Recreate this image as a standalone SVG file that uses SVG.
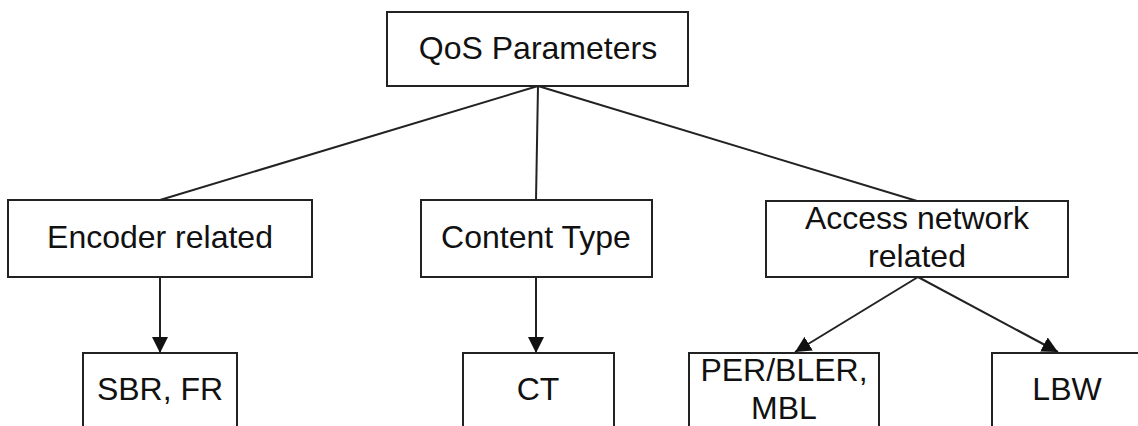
<svg xmlns="http://www.w3.org/2000/svg" width="1138" height="426" viewBox="0 0 1138 426">
<style>
.box{fill:#fff;stroke:#222;stroke-width:2}
.lbl{font-family:"Liberation Sans",Arial,sans-serif;font-size:32px;fill:#111;text-anchor:middle}
.ln{stroke:#222;stroke-width:2;fill:none}
</style>
<defs>
<marker id="ah" markerUnits="userSpaceOnUse" markerWidth="16" markerHeight="16" viewBox="0 0 16 16" refX="16" refY="8" orient="auto">
<path d="M0,0 L16,8 L0,16 Z" fill="#111"/>
</marker>
</defs>
<rect width="1138" height="426" fill="#fff"/>
<g id="connectors">
<line class="ln" x1="538" y1="86" x2="160" y2="200"/>
<line class="ln" x1="538" y1="86" x2="536" y2="200"/>
<line class="ln" x1="538" y1="86" x2="917" y2="201"/>
<line class="ln" x1="160" y1="277" x2="160" y2="353" marker-end="url(#ah)"/>
<line class="ln" x1="536" y1="277" x2="536" y2="353" marker-end="url(#ah)"/>
<line class="ln" x1="918" y1="277" x2="795" y2="352" marker-end="url(#ah)"/>
<line class="ln" x1="918" y1="277" x2="1058" y2="352" marker-end="url(#ah)"/>
</g>
<g id="qos">
<rect class="box" x="387" y="12" width="301" height="74"/>
<text class="lbl" x="538" y="59">QoS Parameters</text>
</g>
<g id="encoder">
<rect class="box" x="8" y="200" width="304" height="77"/>
<text class="lbl" x="160" y="248">Encoder related</text>
</g>
<g id="content">
<rect class="box" x="421" y="200" width="231" height="77"/>
<text class="lbl" x="536" y="248">Content Type</text>
</g>
<g id="access">
<rect class="box" x="766" y="201" width="302" height="76"/>
<text class="lbl" x="917" y="229">Access network</text>
<text class="lbl" x="917" y="267">related</text>
</g>
<g id="sbr">
<rect class="box" x="83" y="353" width="154" height="90"/>
<text class="lbl" x="160" y="400">SBR, FR</text>
</g>
<g id="ct">
<rect class="box" x="463" y="353" width="151" height="90"/>
<text class="lbl" x="538" y="400">CT</text>
</g>
<g id="per">
<rect class="box" x="689" y="353" width="190" height="90"/>
<text class="lbl" x="784" y="381">PER/BLER,</text>
<text class="lbl" x="784" y="419">MBL</text>
</g>
<g id="lbw">
<rect class="box" x="992" y="353" width="160" height="90"/>
<text class="lbl" x="1067" y="400">LBW</text>
</g>
</svg>
